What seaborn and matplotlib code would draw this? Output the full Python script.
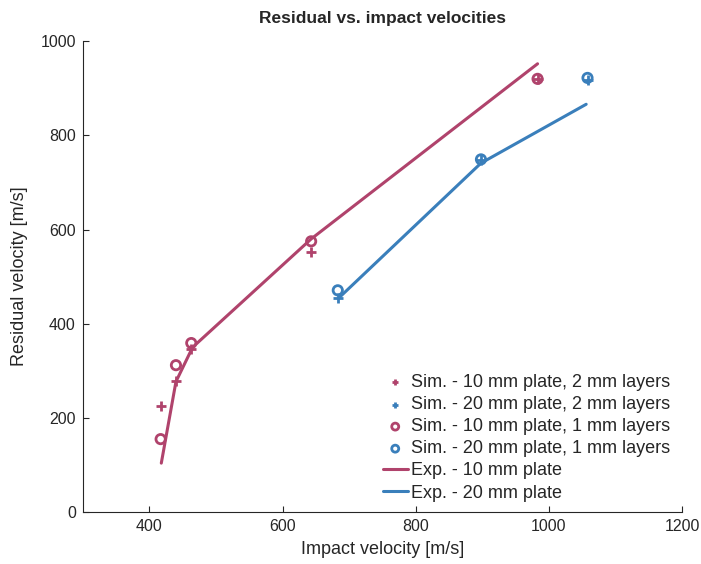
import matplotlib
matplotlib.use("Agg")
import matplotlib.pyplot as plt
import seaborn as sns
import pandas as pd

sns.set_theme(style="ticks")
plt.rcParams['font.family'] = ['Liberation Sans', 'DejaVu Sans']

RED = "#b0436c"
BLUE = "#3a7fbb"

# Simulation data
sim10_2_x = [417, 440, 463, 643, 983]
sim10_2_y = [225, 278, 346, 552, 920]
sim20_2_x = [684, 898, 1058]
sim20_2_y = [454, 747, 917]
sim10_1_x = [417, 440, 463, 643, 983]
sim10_1_y = [155, 312, 359, 575, 920]
sim20_1_x = [683, 898, 1058]
sim20_1_y = [471, 749, 922]
# Experimental data
exp10_x = [418, 440, 465, 643, 983]
exp10_y = [104, 277, 350, 580, 952]
exp20_x = [684, 898, 1056]
exp20_y = [454, 741, 866]

fig = plt.figure(figsize=(7.01, 5.64), dpi=100)
ax = fig.add_axes([0.118, 0.092, 0.855, 0.835])

sns.scatterplot(x=sim10_2_x, y=sim10_2_y, ax=ax, marker="+", s=45, linewidth=2,
                color=RED, label="Sim. - 10 mm plate, 2 mm layers", zorder=3)
sns.scatterplot(x=sim20_2_x, y=sim20_2_y, ax=ax, marker="+", s=45, linewidth=2,
                color=BLUE, label="Sim. - 20 mm plate, 2 mm layers", zorder=3)
sns.scatterplot(x=sim10_1_x, y=sim10_1_y, ax=ax, marker="o", s=45, linewidth=2,
                facecolor="none", edgecolor=RED, label="Sim. - 10 mm plate, 1 mm layers", zorder=3)
sns.scatterplot(x=sim20_1_x, y=sim20_1_y, ax=ax, marker="o", s=45, linewidth=2,
                facecolor="none", edgecolor=BLUE, label="Sim. - 20 mm plate, 1 mm layers", zorder=3)
sns.lineplot(x=exp10_x, y=exp10_y, ax=ax, color=RED, linewidth=2.2,
             label="Exp. - 10 mm plate", sort=False, estimator=None)
sns.lineplot(x=exp20_x, y=exp20_y, ax=ax, color=BLUE, linewidth=2.2,
             label="Exp. - 20 mm plate", sort=False, estimator=None)

ax.set_xlim(300, 1200)
ax.set_ylim(0, 1000)
ax.set_xticks([400, 600, 800, 1000, 1200])
ax.set_yticks([0, 200, 400, 600, 800, 1000])
ax.tick_params(direction="in", length=4, labelsize=11.5, colors="#262626", width=0.8, pad=5)
for s in ["top", "right"]:
    ax.spines[s].set_visible(False)
for s in ["left", "bottom"]:
    ax.spines[s].set_color("#262626")
    ax.spines[s].set_linewidth(0.8)

ax.set_xlabel("Impact velocity [m/s]", fontsize=13, color="#262626", labelpad=5)
ax.set_ylabel("Residual velocity [m/s]", fontsize=13, color="#262626", labelpad=9)
ax.set_title("Residual vs. impact velocities", fontsize=12.5, fontweight="bold", pad=13)

leg = ax.legend(loc="lower right", frameon=False, fontsize=13, handlelength=1.4,
                handletextpad=0.2, labelspacing=0.28, markerscale=0.75,
                bbox_to_anchor=(1.008, -0.012))

fig.savefig("out.png", dpi=100)
